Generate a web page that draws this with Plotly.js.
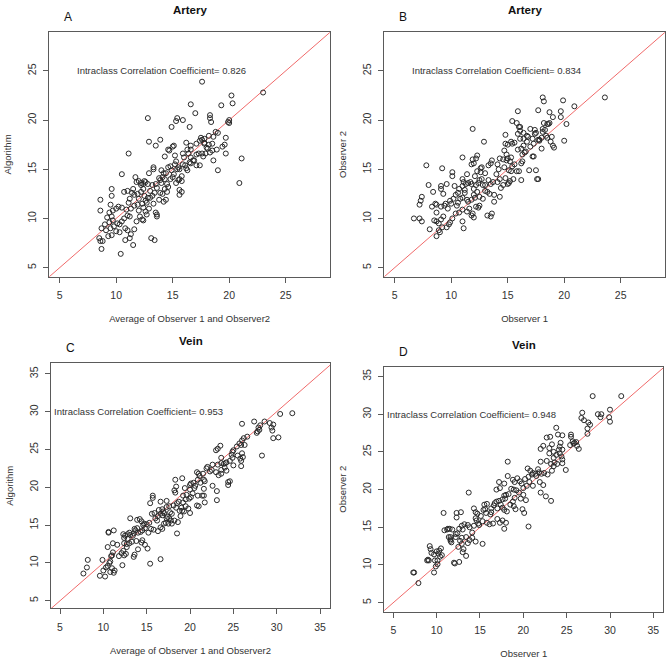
<!DOCTYPE html>
<html>
<head>
<meta charset="utf-8">
<script src="https://cdn.plot.ly/plotly-3.0.1.min.js"></script>
<style>html,body{margin:0;padding:0;background:#fff;}#chart{width:670px;height:662px;}</style>
</head>
<body>
<div id="chart"></div>
<script>
// Panel A: Artery, Average of Observer 1 and Observer2 (x) vs Algorithm (y)
const arteryA_x = [17.6,23.0,20.2,20.3,19.3,16.6,17.0,12.8,15.4,15.3,15.9,18.3,18.3,20.0,19.9,20.0,18.4,14.9,16.5,19.0,18.8,19.7,17.5,17.6,17.8,17.4,17.8,13.9,12.9,13.5,15.1,15.0,16.2,16.6,17.1,17.8,18.2,18.0,18.5,19.6,18.9,18.5,16.6,14.6,14.7,15.9,16.4,16.6,17.3,17.6,17.9,18.3,19.7,11.1,21.1,14.3,15.2,16.0,16.8,17.4,17.1,18.6,19.0,20.9,13.3,15.4,15.6,15.2,15.9,14.6,14.9,15.8,15.6,15.3,15.8,14.4,14.1,13.9,14.0,14.5,14.6,14.3,14.8,15.1,13.9,14.1,14.4,14.2,15.8,15.6,13.6,13.4,13.2,13.0,12.6,12.4,12.2,11.8,11.7,10.5,12.0,12.8,13.2,13.3,12.9,12.4,12.2,11.9,11.6,11.4,11.0,10.7,12.0,12.5,12.8,12.7,12.3,11.9,12.4,12.6,13.5,13.6,13.6,12.7,12.1,12.3,11.8,11.2,11.0,10.9,11.3,11.6,11.1,10.5,10.2,10.0,9.7,9.4,9.6,9.2,9.0,9.4,9.7,10.1,10.5,10.7,10.3,9.8,9.5,9.1,8.7,8.6,8.6,9.6,9.6,9.5,10.8,11.0,10.3,10.0,9.3,9.6,8.5,8.6,8.8,8.7,10.8,11.2,11.3,11.5,10.4,13.1,13.4,11.6,12.4,12.0,12.6,13.0,13.5,13.8,14.2,14.8,15.3,15.5,16.1,16.6,16.9,17.1,17.7,16.5,18.1,18.6,18.2,19.4,12.2,12.5,11.5,11.2,12.9,13.3,13.8,14.5,14.3,15.0,15.5,15.6,16.3,16.2,14.0,16.3];
const arteryA_y = [23.9,22.8,22.5,21.7,21.5,21.6,20.7,20.2,20.2,19.9,20.0,20.5,20.2,20.0,19.8,19.7,19.8,19.3,19.3,18.7,18.8,18.2,18.2,18.0,18.1,17.9,17.7,18.0,17.8,17.4,17.4,17.3,17.7,17.4,17.6,17.6,17.5,17.2,17.6,17.5,17.0,16.9,17.0,17.0,16.9,16.6,16.6,16.2,16.6,16.6,16.6,16.7,16.6,16.6,16.1,16.3,16.4,16.2,15.9,15.4,15.4,15.9,14.9,13.6,15.2,15.0,15.0,15.5,15.5,15.2,14.9,14.3,14.0,13.6,13.8,14.6,14.2,13.9,13.6,13.5,13.2,13.0,14.0,14.5,12.6,12.5,11.9,11.7,12.7,12.4,13.1,12.6,12.3,12.1,13.7,13.5,13.6,13.7,14.2,14.5,13.8,13.5,13.4,15.0,14.6,13.0,12.7,12.5,12.4,12.6,12.8,12.7,12.0,12.3,12.1,11.6,11.5,11.4,11.1,10.7,10.6,10.2,10.4,10.4,10.2,9.9,9.7,10.2,10.3,10.9,11.0,11.3,11.6,11.1,11.2,11.0,10.8,10.6,10.2,10.1,9.4,9.6,9.8,9.5,9.7,10.0,9.4,9.2,9.0,8.8,9.0,10.8,11.9,12.3,13.0,11.4,9.0,8.8,8.6,8.7,8.2,8.3,8.0,7.7,7.7,6.9,7.8,8.0,8.4,7.3,6.4,8.0,7.8,8.9,9.8,10.8,11.8,12.8,13.5,14.1,14.6,15.3,15.8,15.2,15.4,15.6,15.9,16.5,16.3,15.7,17.1,18.3,18.4,17.3,13.4,13.8,13.0,12.0,11.0,11.5,11.9,12.7,14.0,14.2,13.9,12.9,14.9,15.1,14.9,17.0];

// Panel B: Artery, Observer 1 (x) vs Observer 2 (y)
const arteryB_x = [23.6,18.1,18.2,19.9,20.9,17.7,15.9,19.7,18.7,19.0,19.7,20.2,15.4,15.8,16.0,16.1,16.1,18.2,18.5,18.6,18.1,18.3,18.1,17.4,17.5,17.0,16.4,16.7,16.8,16.4,16.7,17.2,17.7,18.4,18.5,18.9,18.8,19.0,19.1,20.0,17.8,14.8,15.9,16.1,15.6,15.4,15.3,15.0,14.8,12.9,11.9,16.4,16.2,15.9,16.5,17.3,17.2,18.0,14.7,14.9,15.0,14.6,14.9,15.2,15.3,14.3,13.6,13.5,12.3,12.2,11.9,11.8,11.0,12.0,12.6,12.7,12.3,12.6,13.0,13.3,14.1,14.2,14.7,15.4,15.1,15.3,15.8,16.0,16.3,16.2,16.9,17.5,17.6,17.7,16.2,15.2,15.1,14.8,14.3,14.1,13.7,13.5,13.3,13.0,12.8,12.4,12.2,11.7,11.5,11.3,11.1,11.0,11.0,11.8,12.0,12.3,12.0,12.1,12.5,13.2,13.4,13.8,14.3,13.8,12.2,12.5,11.4,11.5,11.8,11.2,11.0,10.8,10.6,10.5,10.6,10.4,10.2,9.9,10.0,9.7,9.5,9.4,9.1,9.3,9.1,9.2,10.1,10.1,10.3,9.6,9.1,8.4,8.0,7.8,7.4,7.3,7.2,8.3,8.6,8.7,6.7,7.2,7.4,8.1,8.5,8.7,8.7,8.9,9.1,9.3,8.9,8.7,9.0,9.2,9.6,9.9,9.8,10.1,10.4,10.7,11.0,11.0,11.1,11.4,11.6,11.9,12.0,11.8,13.2,13.6,13.5,12.4,12.8,13.0,14.4,14.6,15.0,15.5,15.6,16.6,17.0,17.3,17.8,18.0,18.7,17.4,16.3,12.5,12.1,11.4,12.7,14.0,10.7,11.2];
const arteryB_y = [22.3,22.3,21.9,22.0,21.4,21.0,20.9,20.9,20.8,20.3,20.3,19.6,19.9,19.7,19.3,19.3,18.9,19.7,19.6,19.6,19.1,19.0,18.8,19.0,18.7,19.1,18.7,18.4,18.3,18.1,17.8,18.1,18.0,18.4,18.2,18.3,17.8,17.4,17.2,17.9,18.0,18.5,18.6,18.1,17.7,17.6,17.8,17.5,17.6,17.8,19.1,17.4,17.1,17.0,16.7,16.3,16.3,17.1,16.9,16.5,16.1,16.0,15.9,15.8,16.2,16.1,15.9,15.6,16.4,16.1,16.0,15.5,16.2,15.6,15.1,15.2,14.8,14.7,14.6,15.4,15.5,15.0,15.2,15.3,14.9,14.8,14.8,14.8,15.8,15.6,14.9,14.9,14.0,14.0,13.9,13.8,13.6,14.1,14.0,13.7,13.7,13.5,13.9,13.4,13.4,13.6,13.4,13.7,13.6,13.5,13.7,14.0,13.3,13.5,13.0,12.7,12.4,12.1,12.2,12.7,12.5,12.4,12.2,11.7,11.2,11.3,11.9,11.7,11.9,12.6,12.1,12.0,11.6,11.3,12.6,12.4,12.0,11.8,11.5,11.0,11.5,11.3,11.2,12.5,13.0,15.1,14.3,14.7,13.3,13.5,13.3,12.7,13.4,15.4,12.2,11.8,11.4,11.2,11.5,11.4,10.0,10.0,9.7,8.9,9.8,10.6,9.7,9.5,9.9,10.2,8.8,8.2,8.6,9.1,9.1,9.6,9.4,10.0,10.5,10.6,10.9,9.7,9.0,10.7,11.0,10.5,10.1,10.3,10.3,10.5,10.2,11.1,12.0,12.8,13.1,13.4,13.5,14.0,15.5,16.8,17.3,17.6,17.9,18.2,19.7,18.6,16.5,13.9,14.3,14.5,14.0,14.5,13.0,12.9];

// Panel C: Vein, Average of Observer 1 and Observer2 (x) vs Algorithm (y)
const veinC_x = [31.8,30.4,28.6,27.4,26.0,28.1,27.9,29.2,29.6,29.4,29.5,28.0,27.8,29.6,30.2,28.3,26.2,26.0,25.9,25.7,26.3,25.4,23.5,23.2,23.0,25.0,24.9,25.5,26.0,26.1,25.8,25.9,24.9,24.6,24.2,23.9,23.6,23.2,23.6,22.6,21.9,22.0,21.5,21.1,21.0,20.8,20.9,20.4,20.1,20.0,20.5,21.2,21.7,21.6,21.4,21.7,21.6,20.9,20.8,21.0,22.6,23.1,23.1,23.6,24.0,24.2,24.4,24.6,24.4,25.9,25.0,20.0,19.6,19.2,19.5,20.1,19.9,19.2,19.5,19.8,20.0,19.0,19.1,18.8,18.4,18.1,18.5,18.7,18.2,18.4,18.3,19.1,18.3,17.6,17.3,17.7,17.9,17.4,17.0,16.8,16.6,16.4,16.8,16.9,17.6,17.8,17.5,17.2,17.9,18.2,18.6,18.5,17.3,16.6,15.7,15.7,15.4,15.6,15.9,16.3,16.2,16.0,16.6,16.3,16.8,15.8,15.3,15.0,14.8,14.5,14.7,14.4,14.2,14.6,14.3,14.0,13.9,13.7,13.6,13.5,13.4,13.1,13.0,12.8,12.5,12.3,12.4,12.8,13.3,13.0,12.7,12.4,12.7,13.1,13.9,14.4,14.8,15.1,14.0,13.6,13.5,14.5,15.2,15.5,13.8,12.6,12.1,12.3,12.4,11.8,12.2,11.6,11.1,11.2,10.6,10.6,10.5,11.1,11.0,10.9,10.8,10.7,11.0,11.3,11.2,10.8,10.5,10.3,9.9,10.0,10.2,9.6,8.2,8.1,7.7,15.4,16.6,17.3,17.0,18.9,19.3,20.3,22.3,23.0,23.3,23.6,24.1,24.8,26.6,27.7,22.5,21.6,20.6,19.4];
const veinC_y = [29.8,29.7,28.7,28.7,28.4,28.2,27.9,28.5,28.3,27.9,27.5,27.6,27.4,26.5,26.6,24.2,26.5,26.2,25.6,25.8,25.6,25.4,25.5,25.1,24.9,24.9,24.7,24.2,24.5,24.0,23.8,23.5,23.9,23.5,23.3,23.1,23.2,23.0,23.9,23.0,22.5,22.7,21.8,21.5,21.8,22.0,21.0,20.6,20.5,20.3,19.9,20.6,20.8,19.8,18.9,18.0,18.9,18.9,17.6,17.5,20.2,19.5,18.3,21.8,22.6,22.2,20.7,20.8,20.3,22.8,22.9,19.7,19.0,18.9,18.4,18.7,18.5,18.0,17.5,17.2,16.6,17.3,16.9,16.9,17.3,17.6,17.9,18.1,19.6,20.1,21.0,21.2,19.3,17.5,17.4,16.7,16.5,16.1,16.6,16.3,16.5,17.0,17.1,16.8,15.9,15.6,15.2,15.3,15.2,15.6,15.4,13.9,18.2,18.1,18.9,18.6,17.9,16.5,16.6,16.2,15.6,15.9,14.7,14.2,14.5,14.4,15.3,15.1,14.6,14.3,15.2,15.5,15.8,15.0,14.1,14.0,14.6,14.3,14.5,13.9,13.6,13.7,14.0,13.8,13.6,13.8,13.3,13.2,12.8,12.6,12.5,12.6,12.1,15.9,15.7,12.7,12.4,11.9,11.8,11.1,10.8,13.0,14.0,14.5,12.9,11.2,11.3,11.6,11.0,10.9,9.7,12.4,12.6,14.3,14.1,14.0,12.1,11.4,11.0,10.9,10.2,10.0,9.3,9.0,8.7,8.8,9.6,9.4,10.4,9.0,8.2,8.3,10.4,9.4,8.6,9.9,10.5,15.9,15.2,16.2,16.8,19.2,22.1,22.0,21.6,22.3,23.2,24.3,26.7,27.2,22.3,21.0,20.2,19.9];

// Panel D: Vein, Observer 1 (x) vs Observer 2 (y)
const veinD_x = [28.0,31.3,30.0,26.8,29.0,28.6,28.9,29.9,30.0,26.7,27.0,27.5,27.7,27.4,27.4,23.8,24.5,22.7,23.1,24.0,25.5,25.5,25.7,25.8,26.1,26.2,26.4,25.9,24.3,24.1,23.3,22.3,22.0,23.0,23.5,24.5,24.2,23.8,23.0,23.5,24.4,24.5,23.9,23.6,23.2,22.7,22.0,21.7,22.1,21.8,21.4,21.0,20.6,20.2,20.5,20.8,21.1,21.9,22.3,22.0,22.6,23.2,22.8,23.3,24.9,20.7,20.4,20.0,19.6,19.3,19.0,18.8,19.5,19.2,18.9,18.6,18.3,18.0,17.8,19.0,19.7,20.0,20.3,18.8,18.5,18.9,19.1,19.9,20.1,20.6,18.1,17.8,17.6,17.4,17.0,17.2,17.6,17.9,16.9,16.7,16.9,17.3,17.8,18.2,18.2,17.2,16.6,16.3,16.3,15.8,15.5,15.6,15.4,15.1,15.3,15.8,16.1,16.5,17.0,17.3,17.6,17.8,18.0,14.7,14.5,14.6,14.8,14.3,14.5,13.7,14.1,14.3,13.6,13.8,13.2,12.9,13.0,12.6,12.4,12.3,12.8,12.3,11.8,11.5,11.3,11.4,11.6,11.7,11.6,12.2,12.7,12.9,12.5,13.1,13.0,13.4,12.6,12.0,12.1,13.6,14.1,14.5,15.3,13.4,13.8,12.9,12.2,11.6,10.8,11.2,10.9,10.5,10.3,10.2,10.0,9.7,9.4,9.3,9.2,10.6,10.4,10.1,10.1,9.8,9.9,9.1,9.7,7.3,7.4,7.9,8.9,9.0,21.1,21.5,22.4,23.5,24.5,24.2,25.4,19.8,16.2,15.7,14.9];
const veinD_y = [32.4,32.4,30.6,30.2,30.0,30.0,29.6,29.6,29.0,29.5,29.2,28.9,28.6,28.1,27.4,28.2,27.2,26.9,27.0,27.3,27.3,27.0,26.4,26.1,26.3,25.8,25.4,26.2,26.2,25.3,26.0,25.8,25.4,25.5,25.0,25.3,24.8,24.6,24.8,24.2,24.4,23.5,23.4,23.6,23.4,23.8,23.7,22.7,22.1,22.3,22.1,22.0,21.7,21.4,22.8,22.5,22.2,21.0,20.6,19.6,19.1,18.5,22.0,22.5,22.6,21.0,20.5,20.2,21.1,21.5,21.0,21.3,19.6,19.9,20.0,20.1,19.4,19.3,19.2,18.9,18.8,19.3,18.6,18.4,18.0,17.8,17.4,17.4,16.9,15.1,17.1,17.3,17.6,18.0,17.5,18.5,18.7,18.8,18.4,18.2,20.0,20.2,20.8,21.8,23.7,21.0,17.9,17.5,17.0,18.1,18.0,17.4,17.3,16.5,15.8,15.6,15.4,15.5,16.1,15.6,15.9,14.8,15.6,16.8,16.2,15.9,15.5,17.5,17.0,19.6,14.3,15.2,15.3,15.0,15.4,15.2,14.7,14.8,14.2,16.9,17.0,16.3,14.7,14.8,14.8,13.7,13.4,13.0,13.2,13.7,13.2,12.8,12.4,12.1,11.7,11.2,10.4,10.3,10.2,12.9,13.6,13.1,12.8,13.7,13.3,13.6,14.1,13.7,16.9,14.7,14.6,12.2,11.9,11.5,11.8,11.4,11.6,12.1,12.5,11.3,11.1,10.6,10.1,10.6,9.8,10.6,9.0,9.0,9.0,7.6,10.6,10.7,20.5,21.8,22.2,23.1,24.0,25.7,25.9,20.8,16.7,16.9,15.3];

const panelLetters = ['A','B','C','D'];
const panelTitles = ['Artery','Artery','Vein','Vein'];
const xTitles = ['Average of Observer 1 and Observer2','Observer 1','Average of Observer 1 and Observer2','Observer 1'];
const yTitles = ['Algorithm','Observer 2','Algorithm','Observer 2'];
const iccLabels = ['Intraclass Correlation Coefficient= 0.826','Intraclass Correlation Coefficient= 0.834','Intraclass Correlation Coefficient= 0.953','Intraclass Correlation Coefficient= 0.948'];
const iccPos = [[14,25],[14,25],[14,30],[14,30]];
const tickValsArtery = [5,10,15,20,25];
const tickValsVein = [5,10,15,20,25,30,35];

const W = 670, H = 662;
const FONT = 'Liberation Sans, Arial, Helvetica, sans-serif';
// pixel boxes [left, right, top, bottom]
const boxes = [[49.3,330,32.3,276.7],[384.3,665,32.3,276.7],[51,330,363.3,608.3],[384.3,663.3,366.7,611.7]];
const xRanges = [[4.08,28.92],[4.08,28.92],[3.96,36.15],[3.96,36.15]];
const yRanges = [[4.08,28.92],[4.08,28.92],[4.0,36.4],[3.8,36.3]];
const seriesX = [arteryA_x, arteryB_x, veinC_x, veinD_x];
const seriesY = [arteryA_y, arteryB_y, veinC_y, veinD_y];

const traces = [];
const layout = {
  width: W, height: H,
  margin: {l:0, r:0, t:0, b:0},
  paper_bgcolor: '#fff', plot_bgcolor: '#fff',
  showlegend: false,
  font: {family: FONT, size: 10, color: '#333'},
  annotations: []
};

for (let i = 0; i < 4; i++) {
  const sfx = i === 0 ? '' : String(i + 1);
  const xa = 'x' + sfx, ya = 'y' + sfx;
  const b = boxes[i];
  const tv = i < 2 ? tickValsArtery : tickValsVein;
  const lo = Math.min(xRanges[i][0], yRanges[i][0]) - 2, hi = Math.max(xRanges[i][1], yRanges[i][1]) + 2;
  traces.push({
    type: 'scatter', mode: 'lines', xaxis: xa, yaxis: ya,
    x: [lo, hi], y: [lo, hi],
    line: {color: '#f06a6a', width: 1}, hoverinfo: 'skip'
  });
  traces.push({
    type: 'scatter', mode: 'markers', xaxis: xa, yaxis: ya,
    x: seriesX[i], y: seriesY[i],
    marker: {symbol: 'circle-open', size: 5, color: '#2a2a2a', line: {width: 1, color: '#2a2a2a'}}
  });
  const axCommon = {
    showgrid: false, zeroline: false, showline: true, linecolor: '#5a5a5a', linewidth: 1,
    mirror: true, ticks: 'outside', ticklen: 5, tickcolor: '#5a5a5a', tickwidth: 1,
    tickvals: tv, ticktext: tv.map(String),
    tickfont: {family: FONT, size: 10.5, color: '#333'}
  };
  layout['xaxis' + sfx] = Object.assign({}, axCommon, {
    domain: [b[0] / W, b[1] / W], range: xRanges[i], anchor: ya,
    ticklabelstandoff: 4,
    title: {text: xTitles[i], font: {family: FONT, size: 9.5, color: '#333'}, standoff: 15}
  });
  layout['yaxis' + sfx] = Object.assign({}, axCommon, {
    domain: [1 - b[3] / H, 1 - b[2] / H], range: yRanges[i], anchor: xa,
    tickangle: -90, ticklabelstandoff: 3,
    title: {text: yTitles[i], font: {family: FONT, size: 9.5, color: '#333'}, standoff: 12}
  });
  const cx = (b[0] + b[1]) / 2;
  layout.annotations.push({
    xref: 'paper', yref: 'paper', x: cx / W, y: 1 - (b[2] - 22) / H,
    text: '<b>' + panelTitles[i] + '</b>', showarrow: false,
    font: {family: FONT, size: 11.5, color: '#111'}, xanchor: 'center', yanchor: 'middle'
  });
  layout.annotations.push({
    xref: 'paper', yref: 'paper', x: (b[0] + 19) / W, y: 1 - (b[2] - 15) / H,
    text: panelLetters[i], showarrow: false,
    font: {family: FONT, size: 12, color: '#111'}, xanchor: 'center', yanchor: 'middle'
  });
  layout.annotations.push({
    xref: xa, yref: ya, x: iccPos[i][0], y: iccPos[i][1],
    text: iccLabels[i], showarrow: false,
    font: {family: FONT, size: 9.5, color: '#333'}, xanchor: 'center', yanchor: 'middle'
  });
}

Plotly.newPlot('chart', traces, layout, {displayModeBar: false, staticPlot: true});
</script>
</body>
</html>
